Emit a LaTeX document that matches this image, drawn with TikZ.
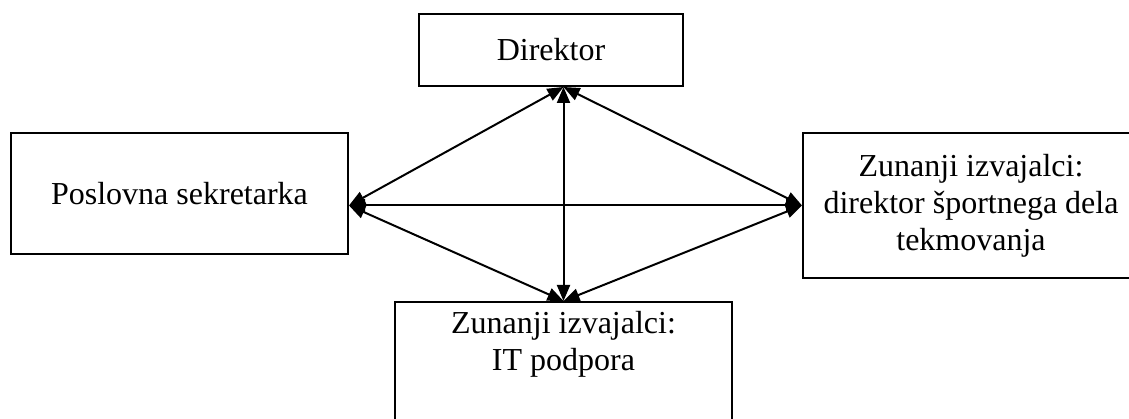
\documentclass[tikz,border=0pt]{standalone}
\usepackage{fontspec}
\setmainfont{Liberation Serif}
\usetikzlibrary{arrows.meta}

\tikzset{
  box/.style={draw, line width=2pt, rectangle, inner sep=0pt, anchor=center},
  txt/.style={align=center, inner sep=0pt, font=\fontsize{32}{37}\selectfont},
  link/.style={line width=2pt, {Triangle[length=16pt,width=13pt]}-{Triangle[length=16pt,width=13pt]}},
}

\begin{document}
\begin{tikzpicture}[x=1pt, y=-1pt]
  \useasboundingbox (0,0) rectangle (1129,419);

  % boxes
  \node[box, minimum width=264pt, minimum height=72pt, txt] (dir) at (551,50) {Direktor};
  \node[box, minimum width=337pt, minimum height=121pt, txt] (sec) at (179.5,193.5) {Poslovna sekretarka};
  \node[box, minimum width=336pt, minimum height=145pt, txt] (rt) at (971,205.5)
    {Zunanji izvajalci:\\direktor športnega dela\\tekmovanja};
  \node[box, minimum width=337pt, minimum height=145pt] (bot) at (563.5,374.5) {};
  \node[txt, anchor=north] (botlbl) at ([yshift=-10pt]bot.north) {Zunanji izvajalci:\\IT podpora};

  % meeting points on the box edges
  \coordinate (pd) at (dir.south -| bot.north);
  \coordinate (ps) at (sec.east |- rt.west);
  \coordinate (pr) at (rt.west);
  \coordinate (pb) at (bot.north);

  % connectors
  \draw[link] (pd) -- (ps);
  \draw[link] (pd) -- (pr);
  \draw[link] (pd) -- (pb);
  \draw[link] (ps) -- (pr);
  \draw[link] (ps) -- (pb);
  \draw[link] (pr) -- (pb);
\end{tikzpicture}
\end{document}
